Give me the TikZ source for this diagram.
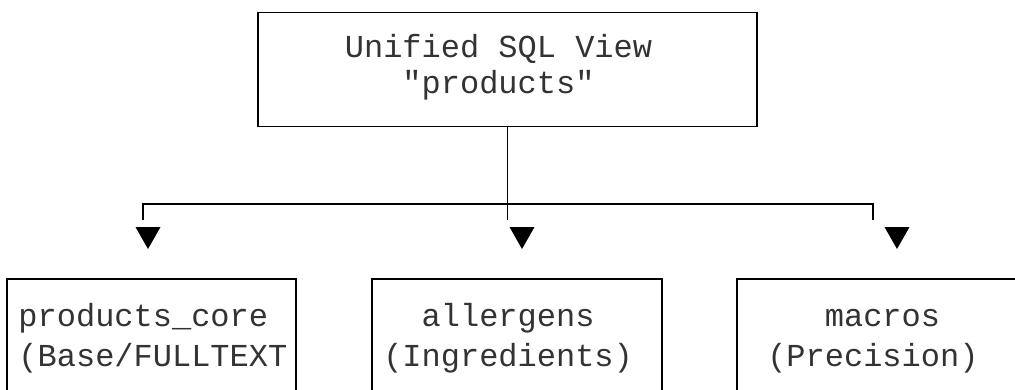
\documentclass[tikz,border=0pt]{standalone}
\usepackage{fontspec}
\newfontfamily\mono{Liberation Mono}
\begin{document}
\begin{tikzpicture}[x=1bp,y=-1bp,line width=1.7bp,
  txt/.style={font=\mono\fontsize{32bp}{38bp}\selectfont, inner sep=0pt, anchor=base west, text=black!80},
  frame/.style={draw=none, inner sep=0pt},
  tip/.style={fill=black}]
\useasboundingbox (0,0) rectangle (1015,389);
% top box
\node[draw, inner sep=0pt, minimum width=499bp, minimum height=114bp] (top) at (507.5,69.5) {};
\node[txt] (t1) at (344,57.7) {Unified SQL View};
\node[txt] (t2) at (401.6,93) {"products"};
% bottom boxes (open at the bottom)
\node[frame, minimum width=287bp, minimum height=130bp] (core) at (151.5,345) {};
\node[frame, minimum width=288bp, minimum height=130bp] (allg) at (517,345) {};
\node[frame, minimum width=288bp, minimum height=130bp] (macr) at (882,345) {};
\draw (core.south west) |- (core.north east) -- (core.south east);
\draw (allg.south west) |- (allg.north east) -- (allg.south east);
\draw (macr.south west) |- (macr.north east) -- (macr.south east);
\node[txt] (c1) at (17.6,326.5) {products\_core};
\node[txt] (c2) at (17.6,366) {(Base/FULLTEXT};
\node[txt] (a1) at (420.8,326.5) {allergens};
\node[txt] (a2) at (382.4,366) {(Ingredients)};
\node[txt] (m1) at (824,326.5) {macros};
\node[txt] (m2) at (766.4,366) {(Precision)};
% connectors
\coordinate (el) at (143,220);
\coordinate (em) at (507.5,220);
\coordinate (er) at (873,220);
\coordinate (jr) at (873,204);
\draw (el) |- (jr) -- (er);
\draw (top.south -| em) -- (em);
% arrow heads
\coordinate (h1) at (148,227);
\coordinate (h2) at (522,227);
\coordinate (h3) at (897,227);
\fill[tip] (h1) ++(-12.5,0) -- ++(25,0) -- ++(-12.5,22) -- cycle;
\fill[tip] (h2) ++(-12.5,0) -- ++(25,0) -- ++(-12.5,22) -- cycle;
\fill[tip] (h3) ++(-12.5,0) -- ++(25,0) -- ++(-12.5,22) -- cycle;
\end{tikzpicture}
\end{document}
